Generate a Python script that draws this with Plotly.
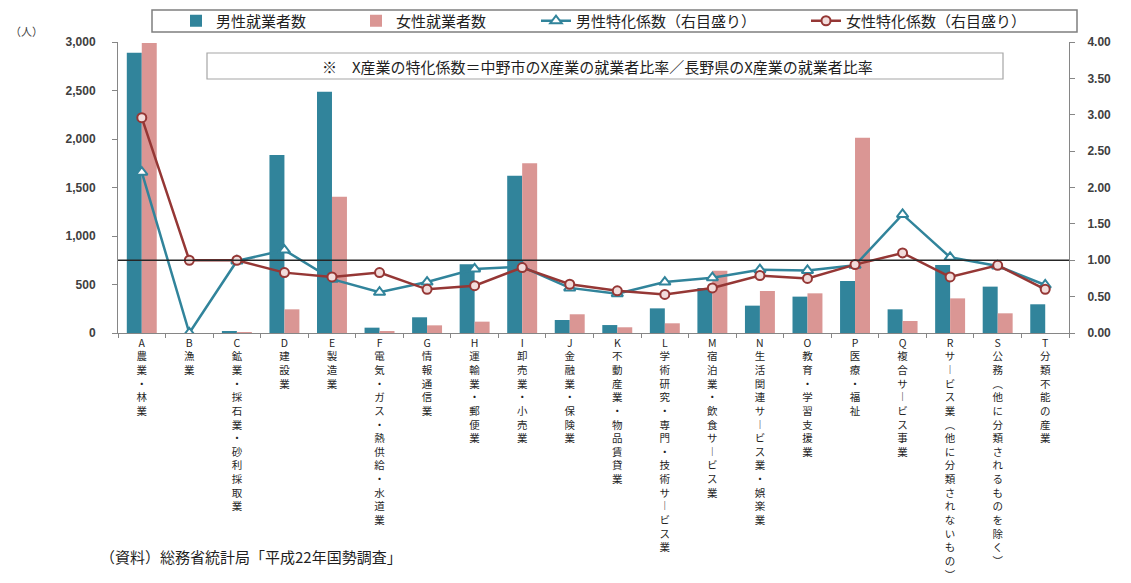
import plotly.graph_objects as go

# 産業分類（大分類）
industries = [
    "A農業・林業", "B漁業", "C鉱業・採石業・砂利採取業", "D建設業", "E製造業",
    "F電気・ガス・熱供給・水道業", "G情報通信業", "H運輸業・郵便業", "I卸売業・小売業",
    "J金融業・保険業", "K不動産業・物品賃貸業", "L学術研究・専門・技術サービス業",
    "M宿泊業・飲食サービス業", "N生活関連サービス業・娯楽業", "O教育・学習支援業",
    "P医療・福祉", "Q複合サービス事業", "Rサービス業(他に分類されないもの)",
    "S公務(他に分類されるものを除く)", "T分類不能の産業",
]

# 就業者数（人）
male_workers = [2890, 0, 12, 1835, 2488, 55, 162, 708, 1622, 134,
                82, 254, 464, 282, 375, 536, 244, 701, 478, 296]
female_workers = [2990, 0, 2, 244, 1405, 13, 79, 117, 1750, 193,
                  59, 100, 642, 433, 409, 2014, 124, 357, 203, 0]

# 特化係数（右目盛り）
male_coef = [2.21, 0.00, 0.99, 1.14, 0.74, 0.56, 0.70, 0.88, 0.91, 0.62,
             0.54, 0.70, 0.76, 0.87, 0.86, 0.93, 1.63, 1.04, 0.92, 0.66]
female_coef = [2.96, 1.00, 1.00, 0.83, 0.77, 0.83, 0.60, 0.65, 0.90, 0.67,
               0.58, 0.53, 0.62, 0.79, 0.75, 0.94, 1.10, 0.77, 0.93, 0.60]

left_ticks = [0, 500, 1000, 1500, 2000, 2500, 3000]
right_ticks = [0, 0.5, 1.0, 1.5, 2.0, 2.5, 3.0, 3.5, 4.0]
BASELINE = 1.0

TEAL = "#31849B"
PINK = "#DA9694"
DARKRED = "#953735"
AXIS = "#868686"
TEXT = "#404040"
JP = "Noto Sans CJK JP"

# 縦書き表示用の字形置換
VERTICAL = {"ー": "︱", "(": "︵", ")": "︶"}


def vertical_label(s):
    return "<br>".join(VERTICAL.get(ch, ch) for ch in s)


tick_text = [vertical_label(s) for s in industries]
n_cat = len(industries)

fig = go.Figure()
fig.add_trace(go.Bar(
    x=industries, y=male_workers, name="男性就業者数",
    marker=dict(color=TEAL, line=dict(width=0)), legend="legend2",
))
fig.add_trace(go.Bar(
    x=industries, y=female_workers, name="女性就業者数",
    marker=dict(color=PINK, line=dict(width=0)), legend="legend3",
))
fig.add_trace(go.Scatter(
    x=industries, y=male_coef, name="男性特化係数（右目盛り）", yaxis="y2",
    mode="lines+markers", line=dict(color=TEAL, width=2.5),
    marker=dict(symbol="triangle-up", size=10, color="white",
                line=dict(color=TEAL, width=2)),
    legend="legend4",
))
fig.add_trace(go.Scatter(
    x=industries, y=female_coef, name="女性特化係数（右目盛り）", yaxis="y2",
    mode="lines+markers", line=dict(color=DARKRED, width=2.5),
    marker=dict(symbol="circle", size=9, color="#F2DCDB",
                line=dict(color=DARKRED, width=2)),
    legend="legend5",
))

L, R, T, B = 118, 62, 42, 250
W, H = 1131, 583
pw, ph = W - L - R, H - T - B


def px_x(px):
    return (px - L) / pw


def px_y(py):
    return (H - B - py) / ph


legend_font = dict(family=JP, size=15, color="#1F1F1F")
legend_common = dict(orientation="h", bgcolor="rgba(0,0,0,0)", borderwidth=0,
                     font=legend_font, yanchor="middle", xanchor="left",
                     itemwidth=30, y=px_y(21), visible=True)

fig.update_layout(
    width=W, height=H, autosize=False,
    margin=dict(l=L, r=R, t=T, b=B, autoexpand=False),
    paper_bgcolor="white", plot_bgcolor="white",
    barmode="group", bargap=0.37, bargroupgap=0.0,
    font=dict(family=JP, color=TEXT),
    showlegend=True,
    legend2=dict(x=px_x(176), **legend_common),
    legend3=dict(x=px_x(356), **legend_common),
    legend4=dict(x=px_x(536), **legend_common),
    legend5=dict(x=px_x(806), **legend_common),
    xaxis=dict(
        type="category", tickmode="array", tickvals=industries, ticktext=tick_text,
        range=[-0.5, n_cat - 0.5], autorange=False,
        tickangle=0, tickson="boundaries", ticks="outside", ticklen=4,
        tickcolor=AXIS, showline=True, linecolor=AXIS, linewidth=1,
        showgrid=False, automargin=False,
        tickfont=dict(family=JP, size=10.5, color="#1F1F1F"),
    ),
    yaxis=dict(
        range=[0, 3000], tickmode="array", tickvals=left_ticks, tickformat=",",
        ticks="outside", ticklen=5, tickcolor=AXIS, showline=True,
        linecolor=AXIS, linewidth=1, showgrid=False, zeroline=False,
        ticklabelstandoff=14, automargin=False,
        tickfont=dict(family="Liberation Sans", size=12, color=TEXT, weight="bold"),
    ),
    yaxis2=dict(
        range=[0, 4], overlaying="y", side="right", tickmode="array",
        tickvals=right_ticks, tickformat=".2f", ticks="outside", ticklen=5,
        tickcolor=AXIS, showline=True, linecolor=AXIS, linewidth=1,
        showgrid=False, zeroline=False, ticklabelstandoff=10, automargin=False,
        tickfont=dict(family="Liberation Sans", size=12, color=TEXT, weight="bold"),
    ),
    shapes=[
        # 凡例の枠
        dict(type="rect", xref="paper", yref="paper",
             x0=px_x(152), x1=px_x(1077), y0=px_y(32), y1=px_y(10),
             line=dict(color="#7F7F7F", width=1.5), layer="above"),
        # 注記の枠
        dict(type="rect", xref="paper", yref="paper",
             x0=px_x(207), x1=px_x(1003), y0=px_y(79), y1=px_y(53),
             line=dict(color="#A6A6A6", width=1.2), fillcolor="white", layer="above"),
        # 特化係数 1.00 の基準線
        dict(type="line", xref="paper", yref="y2", x0=0, x1=1,
             y0=BASELINE, y1=BASELINE, line=dict(color="#262626", width=1.5),
             layer="above"),
    ],
    annotations=[
        dict(text="※　X産業の特化係数＝中野市のX産業の就業者比率／長野県のX産業の就業者比率",
             xref="paper", yref="paper", x=px_x(597), y=px_y(66),
             xanchor="center", yanchor="middle", showarrow=False,
             font=dict(family=JP, size=15, color="#1F1F1F")),
        dict(text="（人）", xref="paper", yref="paper", x=px_x(8), y=px_y(31),
             xanchor="left", yanchor="middle", showarrow=False,
             font=dict(family=JP, size=11, color=TEXT)),
        dict(text="（資料）総務省統計局「平成22年国勢調査」", xref="paper", yref="paper",
             x=px_x(98), y=px_y(556), xanchor="left", yanchor="middle",
             showarrow=False, font=dict(family=JP, size=15, color="#1F1F1F")),
    ],
)

fig.write_html("out.html")
